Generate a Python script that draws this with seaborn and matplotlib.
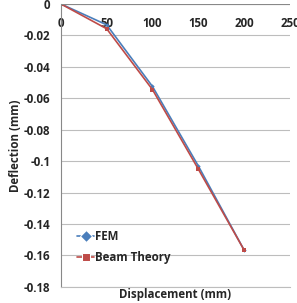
import matplotlib
matplotlib.use("Agg")
import matplotlib.pyplot as plt
import seaborn as sns
import pandas as pd

displacement = [0, 50, 100, 150, 200]
fem = [0, -0.0133, -0.0525, -0.103, -0.1565]
beam = [0, -0.0158, -0.0545, -0.105, -0.1565]
series_names = ["FEM", "Beam Theory"]

df = pd.DataFrame({
    "Displacement": displacement * 2,
    "Deflection": fem + beam,
    "Series": [series_names[0]] * 5 + [series_names[1]] * 5,
})

sns.set_style("white")
plt.rcParams['font.family'] = ['Open Sans', 'DejaVu Sans']

FS = 8.3
fig = plt.figure(figsize=(2.97, 3.03), dpi=100)
ax = fig.add_axes([0.205, 0.053, 0.771, 0.934])

palette = {"FEM": "#4A7EBB", "Beam Theory": "#BE4B48"}
sns.lineplot(data=df, x="Displacement", y="Deflection", hue="Series", style="Series",
             markers={"FEM": "D", "Beam Theory": "s"}, dashes=False,
             palette=palette, linewidth=1.2, ax=ax, legend=True)
for line, ms in zip(ax.lines, [2.2, 3.2]):
    line.set_markersize(ms)
    line.set_markeredgewidth(0)

ax.set_xlim(0, 250)
ax.set_ylim(-0.18, 0)
ax.set_xticks([0, 50, 100, 150, 200, 250])
ax.set_yticks([0, -0.02, -0.04, -0.06, -0.08, -0.1, -0.12, -0.14, -0.16, -0.18])
ax.set_yticklabels(["0", "-0.02", "-0.04", "-0.06", "-0.08", "-0.1", "-0.12", "-0.14", "-0.16", "-0.18"])
ax.yaxis.grid(True, color="#BDBDBD", linewidth=0.8)
ax.xaxis.grid(False)

for s in ["top", "right"]:
    ax.spines[s].set_visible(False)
ax.spines["left"].set_color("#888888")
ax.spines["bottom"].set_color("#BDBDBD")
ax.spines["bottom"].set_linewidth(0.8)

ax.xaxis.set_ticks_position("top")
ax.xaxis.set_label_position("bottom")
ax.tick_params(axis="x", which="both", top=False, labeltop=True, pad=-22, labelsize=FS)
for lab in ax.get_xticklabels():
    lab.set_fontweight("bold")
ax.tick_params(axis="y", labelsize=FS, pad=4, left=False)
for lab in ax.get_yticklabels():
    lab.set_fontweight("bold")
ax.axhline(0, color="#888888", linewidth=0.8)

ax.set_xlabel("Displacement (mm)", fontsize=FS, fontweight="bold", labelpad=1)
ax.set_ylabel("Deflection (mm)", fontsize=FS, fontweight="bold", labelpad=1)

leg = ax.legend(loc="lower left", bbox_to_anchor=(0.05, 0.065), frameon=False,
                fontsize=FS, handlelength=1.5, handletextpad=0.1, labelspacing=0.7,
                borderaxespad=0)
for t in leg.get_texts():
    t.set_fontweight("bold")

fig.savefig("out.png", dpi=100)
